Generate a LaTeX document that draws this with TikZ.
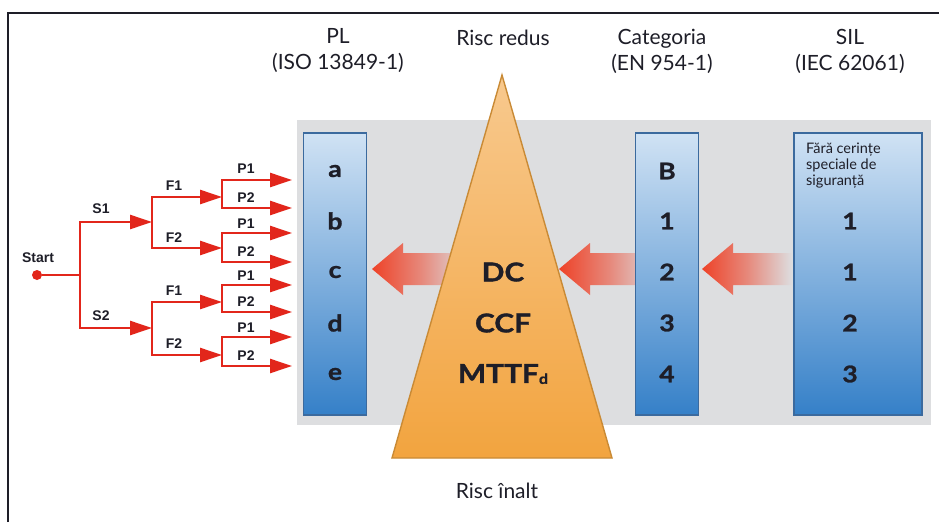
\documentclass[tikz,border=0pt]{standalone}
\usepackage{fontspec}
\setmainfont{Lato}
\newfontfamily\treefont{Liberation Sans}
\newfontfamily\heavyfont[FakeBold=1.2,FakeStretch=1.15]{Lato}
\usetikzlibrary{arrows.meta}
\definecolor{band}{HTML}{DDDEE0}
\definecolor{coltop}{HTML}{D0E2F4}
\definecolor{colbot}{HTML}{3580C8}
\definecolor{colborder}{HTML}{3B6A9E}
\definecolor{tritop}{HTML}{F8C98E}
\definecolor{tribot}{HTML}{F2A43F}
\definecolor{triedge}{HTML}{C98A35}
\definecolor{treered}{HTML}{E2261B}
\definecolor{arrowred}{HTML}{EE4228}
\definecolor{ink}{HTML}{1E1E28}
\tikzset{
  colbox/.style={draw=colborder, line width=1.8pt, top color=coltop, bottom color=colbot, minimum height=282pt, inner sep=0pt},
  head/.style={font=\fontsize{21}{26}\selectfont, text=ink, align=center},
  entry/.style={font=\heavyfont\fontsize{23}{24}\selectfont\bfseries, text=ink},
  trientry/.style={font=\heavyfont\fontsize{26}{27}\selectfont\bfseries, text=ink},
  siltext/.style={font=\fontsize{14.5}{16}\selectfont, text=ink, anchor=base west, inner sep=0pt},
  treeline/.style={draw=treered, line width=2.5pt},
  treearrow/.style={draw=treered, line width=2.5pt, -{Triangle[length=22pt,width=14pt]}},
  treelabel/.style={font=\treefont\fontsize{14}{15}\selectfont\bfseries, text=ink, inner sep=0pt},
  bigarrow/.style={left color=arrowred, right color=band, middle color=arrowred!55!band}
}
\begin{document}
\begin{tikzpicture}[x=1pt,y=-1pt]
\useasboundingbox (0,0) rectangle (939,522);
\fill[white] (0,0) rectangle (939,522);
\draw[line width=1.2pt, ink] (8,522) -- (8,13) -- (939,13);

% gray band
\fill[band] (297,120) rectangle (931,425);

% headers
\node[head] (plh) at (338,51) {PL\\(ISO 13849-1)};
\node[head] (rr) at (503,38) {Risc redus};
\node[head] (cath) at (662,51) {Categoria\\(EN 954-1)};
\node[head] (silh) at (850,51) {SIL\\(IEC 62061)};
\node[head] (ri) at (497,491) {Risc înalt};

% big arrows
\shade[bigarrow] (372,269) -- (403,243) -- (403,253) -- (470,253) -- (470,285) -- (403,285) -- (403,295) -- cycle;
\shade[bigarrow] (559,269) -- (590,243) -- (590,253) -- (660,253) -- (660,285) -- (590,285) -- (590,295) -- cycle;
\shade[bigarrow] (702,269) -- (733,243) -- (733,253) -- (792,253) -- (792,285) -- (733,285) -- (733,295) -- cycle;

% columns
\node[colbox, minimum width=63pt] (plcol) at (335,274) {};
\node[colbox, minimum width=63pt] (catcol) at (667,274) {};
\node[colbox, minimum width=128pt] (silcol) at (858,274) {};

% triangle
\path[top color=tritop, bottom color=tribot, draw=triedge, line width=1.4pt] (502,75) -- (612,458) -- (392,458) -- cycle;

% PL entries
\foreach \t/\y [count=\i] in {a/171,b/221,c/272,d/323,e/374}
  \node[entry] (pl\i) at (335,\y) {\t};
% Category entries
\foreach \t/\y [count=\i] in {B/171,1/221,2/272,3/323,4/374}
  \node[entry] (cat\i) at (667,\y) {\t};
% SIL entries
\node[siltext] (silt1) at (806,153) {Fără cerințe};
\node[siltext] (silt2) at (806,169) {speciale de};
\node[siltext] (silt3) at (806,185) {siguranță};
\foreach \t/\y [count=\i] in {1/221,1/272,2/323,3/374}
  \node[entry] (sil\i) at (850,\y) {\t};
% triangle text
\node[trientry] (dc) at (503,272) {DC};
\node[trientry] (ccf) at (503,323) {CCF};
\node[trientry] (mttf) at (503,374) {MTTF\raisebox{-1pt}{\fontsize{14}{14}\selectfont d}};

% tree
\node[circle, fill=treered, minimum size=10pt, inner sep=0pt] (start) at (37,275) {};
\node[treelabel] (startl) at (38,258) {Start};
\coordinate (j0) at (80,275);
\coordinate (s1) at (80,222);
\coordinate (s2) at (80,328);
\coordinate (s1e) at (152,222);
\coordinate (s2e) at (152,328);
\draw[treeline] (start) -- (j0);
\draw[treeline, line cap=rect] (s1) -- (s2);
\draw[treearrow] (s1) -- (s1e);
\draw[treearrow] (s2) -- (s2e);
\node[treelabel] (s1l) at (101,209) {S1};
\node[treelabel] (s2l) at (101,316) {S2};

\foreach \i/\y in {1/197,2/248,3/302,4/355}{
  \coordinate (fa\i) at (152,\y);
  \coordinate (fb\i) at (222,\y);
  \draw[treearrow] (fa\i) -- (fb\i);
}
\draw[treeline, line cap=rect] (fa1) -- (fa2);
\draw[treeline, line cap=rect] (fa3) -- (fa4);
\node[treelabel] (f1a) at (174,186) {F1};
\node[treelabel] (f2a) at (174,238) {F2};
\node[treelabel] (f1b) at (174,291) {F1};
\node[treelabel] (f2b) at (174,344) {F2};

\foreach \i/\y in {1/180,2/208,3/233,4/262,5/285,6/312,7/337,8/366}{
  \coordinate (pa\i) at (222,\y);
  \coordinate (pb\i) at (292,\y);
  \draw[treearrow] (pa\i) -- (pb\i);
}
\draw[treeline, line cap=rect] (pa1) -- (pa2);
\draw[treeline, line cap=rect] (pa3) -- (pa4);
\draw[treeline, line cap=rect] (pa5) -- (pa6);
\draw[treeline, line cap=rect] (pa7) -- (pa8);
\foreach \t/\y [count=\i] in {P1/169,P2/198,P1/224,P2/252,P1/276,P2/302,P1/328,P2/356}
  \node[treelabel] (pl\i l) at (246,\y) {\t};
\end{tikzpicture}
\end{document}
